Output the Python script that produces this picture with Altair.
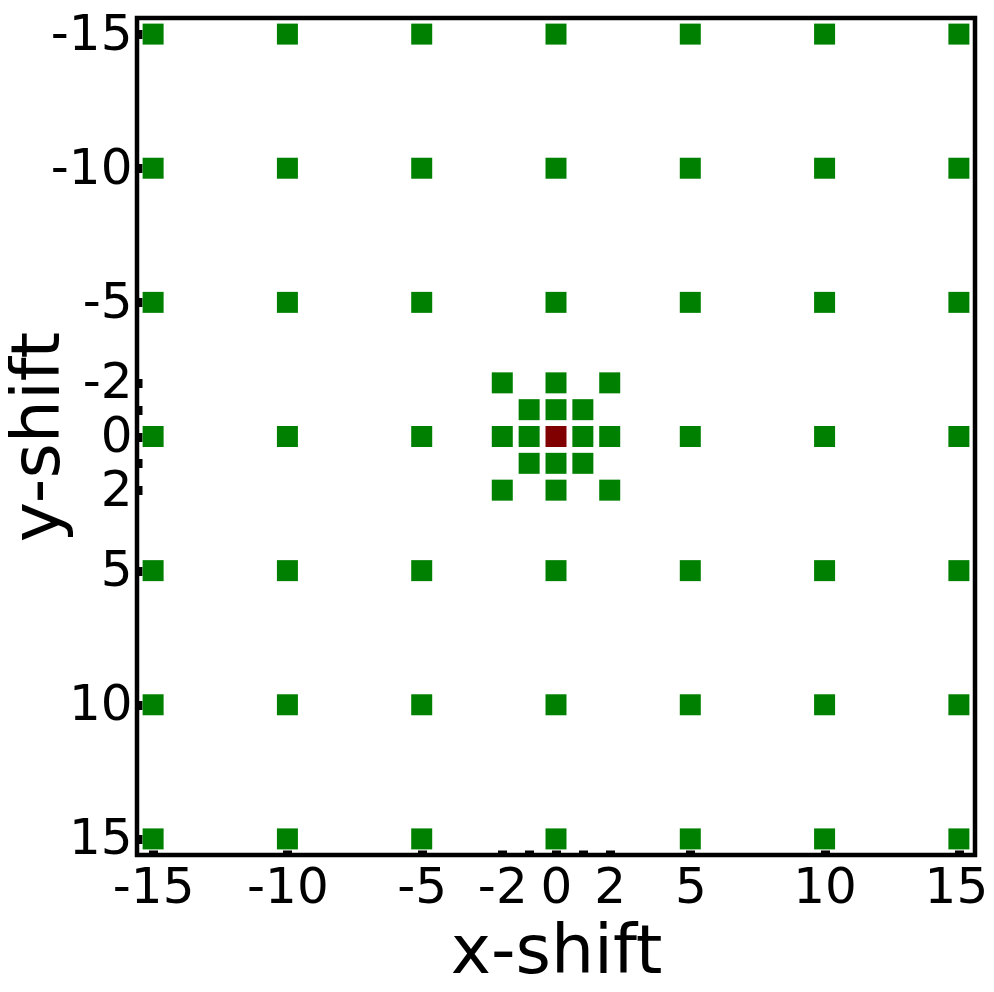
import altair as alt
import pandas as pd

# Outer grid coordinates (both axes)
grid_coords = [-15, -10, -5, 0, 5, 10, 15]
# Inner cluster points (x, y)
inner_x = [-2, 0, 2, -1, 0, 1, -2, -1, 1, 2, -1, 0, 1, -2, 0, 2]
inner_y = [-2, -2, -2, -1, -1, -1, 0, 0, 0, 0, 1, 1, 1, 2, 2, 2]
# Centre point
center_x = [0]
center_y = [0]

tick_values = [-15, -10, -5, -2, -1, 0, 1, 2, 5, 10, 15]

rows = []
for gy in grid_coords:
    for gx in grid_coords:
        if gx == 0 and gy == 0:
            continue
        rows.append({"x": gx, "y": gy, "kind": "shift"})
for a, b in zip(inner_x, inner_y):
    rows.append({"x": a, "y": b, "kind": "shift"})
for a, b in zip(center_x, center_y):
    rows.append({"x": a, "y": b, "kind": "center"})
df = pd.DataFrame(rows)

label_expr = "(datum.value == 1 || datum.value == -1) ? '' : '' + datum.value"

axis_common = dict(
    values=tick_values,
    labelExpr=label_expr,
    domain=False,
    grid=False,
    ticks=True,
    tickSize=5,
    tickWidth=9,
    tickColor="black",
    offset=-5,
    labelFont="DejaVu Sans",
    labelFontSize=50,
    labelColor="black",
    labelOverlap=False,
    labelFlush=False,
    labelBound=False,
    titleFont="DejaVu Sans",
    titleFontSize=68,
    titleFontWeight="normal",
    titleColor="black",
    titleBaseline="alphabetic",
)

chart = alt.Chart(df).mark_point(
    shape="square", filled=True, opacity=1, size=441, strokeWidth=0
).encode(
    x=alt.X("x:Q", scale=alt.Scale(domain=[-15.6, 15.6], nice=False, zero=False),
            axis=alt.Axis(title="x-shift", labelPadding=7, titleY=122,
                          labelOffset=alt.ExprRef("datum.value == 15 ? -3 : 0"),
                          **axis_common)),
    y=alt.Y("y:Q", scale=alt.Scale(domain=[-15.6, 15.6], nice=False, zero=False, reverse=True),
            axis=alt.Axis(title="y-shift", labelPadding=5, titleX=-84, **axis_common)),
    color=alt.Color("kind:N", scale=alt.Scale(domain=["shift", "center"], range=["#008000", "#800000"]),
                    legend=None),
).properties(
    width=838,
    height=837,
    padding={"left": 129, "top": 10, "right": 10, "bottom": 124},
    autosize=alt.AutoSizeParams(type="none"),
).configure_view(
    stroke="black", strokeWidth=4.5
)

chart.save("out.html", embed_options={"renderer": "svg", "actions": False})
